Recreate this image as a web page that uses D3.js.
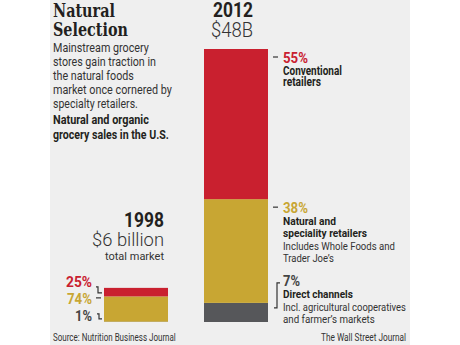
<!DOCTYPE html>
<html>
<head>
<meta charset="utf-8">
<script src="https://cdn.jsdelivr.net/npm/d3@7/dist/d3.min.js"></script>
<style>
  html, body { margin: 0; padding: 0; background: #fff; }
  svg { display: block; }
  .sans { font-family: "Roboto", "Open Sans", "DejaVu Sans", sans-serif; }
  .serif { font-family: "DejaVu Serif", "Liberation Serif", serif; }
</style>
</head>
<body>
<script>
// Natural and organic grocery sales in the U.S., by channel
const years = ["1998", "2012"];
const totals = [6, 48];               // $ billions
const totalLabels = ["$6 billion", "$48B"];
const channels = ["Direct channels", "Natural and speciality retailers", "Conventional retailers"];
const shareDirect = [1, 7];           // percent of total
const shareNatural = [74, 38];
const shareConventional = [25, 55];
const channelColors = ["#56575a", "#c8a633", "#c9202f"];

const W = 460, H = 345;
const svg = d3.select("body").append("svg").attr("width", W).attr("height", H);

// panel background
svg.append("rect").attr("x", 50).attr("y", 0).attr("width", 360).attr("height", H).attr("fill", "#efefef");

const baseY = 322;
const y = d3.scaleLinear().domain([0, 48]).range([baseY, 49]);
const x = d3.scaleBand().domain(years).range([104, 268]).paddingInner(0.36);

// stacked data: each year split into channels, value in $B
const rows = years.map((yr, i) => ({
  year: yr,
  "Direct channels": totals[i] * shareDirect[i] / 100,
  "Natural and speciality retailers": totals[i] * shareNatural[i] / 100,
  "Conventional retailers": totals[i] * shareConventional[i] / 100
}));
const stack = d3.stack().keys(channels)(rows);

svg.append("g").selectAll("g").data(stack).join("g")
  .attr("fill", (d, i) => channelColors[i])
  .selectAll("rect").data(d => d).join("rect")
  .attr("x", d => x(d.data.year))
  .attr("width", x.bandwidth())
  .attr("y", d => y(d[1]))
  .attr("height", d => y(d[0]) - y(d[1]));

const ink = "#231f20";
// text helper; when a width is given the glyphs are narrowed to a condensed set width
function txt(xp, yp, s, opts = {}) {
  const t = svg.append("text")
    .attr("class", opts.cls || "sans")
    .attr("font-size", opts.size || 11)
    .attr("font-weight", opts.weight || "normal")
    .attr("fill", opts.fill || ink)
    .attr("text-anchor", opts.anchor || "start")
    .text(s);
  let sx = 1;
  if (opts.w) {
    const len = t.node().getComputedTextLength();
    if (len > 0) sx = opts.w / len;
  }
  t.attr("transform", `translate(${xp},${yp}) scale(${sx},1)`);
  return t;
}

// headline and intro
txt(53, 17, "Natural", { cls: "serif", size: 19, weight: "bold", w: 62 });
txt(53, 36, "Selection", { cls: "serif", size: 19, weight: "bold", w: 75 });
const intro = ["Mainstream grocery", "stores gain traction in", "the natural foods", "market once cornered by", "specialty retailers."];
const introW = [96, 103, 81, 119, 85];
intro.forEach((s, i) => txt(53, 52 + i * 13.9, s, { size: 12, fill: "#333", w: introW[i] }));
txt(53, 124, "Natural and organic", { size: 12, weight: "bold", w: 96 });
txt(53, 139, "grocery sales in the U.S.", { size: 12, weight: "bold", w: 116 });

// 2012 header
const x12 = x("2012"), x98 = x("1998");
txt(x12 + 9, 17, years[1], { size: 20, weight: "bold", w: 40 });
txt(x12 + 7, 37, totalLabels[1], { size: 19.5, fill: "#333", weight: "300", w: 42 });

// 1998 header
const r98 = x98 + x.bandwidth() - 4;
txt(r98, 227, years[0], { size: 20, weight: "bold", anchor: "end", w: 40 });
txt(r98, 246, totalLabels[0], { size: 18.5, fill: "#333", weight: "300", anchor: "end", w: 72 });
txt(r98, 260, "total market", { size: 11.5, fill: "#333", anchor: "end", w: 59 });

// 2012 segment labels
const s12 = stack.map(s => s[1]);
const lx = x12 + x.bandwidth();
const tick = "#333";
function dash(x1, x2, yy) {
  svg.append("line").attr("x1", x1).attr("x2", x2).attr("y1", yy).attr("y2", yy)
    .attr("stroke", tick).attr("stroke-width", 1.2);
}
const pctSize = 14.5, headSize = 11.5, noteSize = 11;
// conventional
const yConv = y(s12[2][1]);
dash(lx + 5, lx + 10, yConv + 8);
txt(lx + 15, yConv + 14, shareConventional[1] + "%", { size: pctSize, weight: "bold", fill: channelColors[2], w: 25 });
txt(lx + 15, yConv + 26, "Conventional", { size: 12, weight: "bold", w: 59 });
txt(lx + 15, yConv + 37, "retailers", { size: 12, weight: "bold", w: 38 });
// natural
const yNat = y(s12[1][1]);
dash(lx + 5, lx + 10, yNat + 8);
txt(lx + 15, yNat + 14, shareNatural[1] + "%", { size: pctSize, weight: "bold", fill: channelColors[1], w: 25 });
txt(lx + 15, yNat + 26, "Natural and", { size: headSize, weight: "bold", w: 53 });
txt(lx + 15, yNat + 38, "speciality retailers", { size: headSize, weight: "bold", w: 84 });
txt(lx + 15, yNat + 51, "Includes Whole Foods and", { size: noteSize, fill: "#333", w: 112 });
txt(lx + 15, yNat + 63, "Trader Joe\u2019s", { size: noteSize, fill: "#333", w: 51 });
// direct
const yDir = y(s12[0][1]);
svg.append("path")
  .attr("d", `M${lx + 12},${yDir - 20}H${lx + 9}V${yDir + 5}H${lx + 6}`)
  .attr("fill", "none").attr("stroke", tick).attr("stroke-width", 1.2);
txt(lx + 15, yDir - 17, shareDirect[1] + "%", { size: pctSize, weight: "bold", fill: "#444", w: 17 });
txt(lx + 15, yDir - 5, "Direct channels", { size: headSize, weight: "bold", w: 70 });
txt(lx + 15, yDir + 8, "Incl. agricultural cooperatives", { size: noteSize, fill: "#333", w: 123 });
txt(lx + 15, yDir + 20, "and farmer\u2019s markets", { size: noteSize, fill: "#333", w: 92 });

// 1998 segment labels, placed left of the bar
const s98 = stack.map(s => s[0]);
const yC98 = y(s98[2][1]);
const bx = x98 - 2;      // right end of the leader marks
const tx = x98 - 12;     // right edge of the percentages
svg.append("path").attr("d", `M${bx - 6},${yC98 - 1}H${bx - 4}V${yC98 + 5}H${bx}`)
  .attr("fill", "none").attr("stroke", tick).attr("stroke-width", 1.2);
txt(tx, yC98 - 1, shareConventional[0] + "%", { size: pctSize, weight: "bold", fill: channelColors[2], anchor: "end", w: 26 });
dash(bx - 6, bx - 1, yC98 + 10);
txt(tx, yC98 + 16, shareNatural[0] + "%", { size: pctSize, weight: "bold", fill: channelColors[1], anchor: "end", w: 25 });
svg.append("path").attr("d", `M${bx - 5},${yC98 + 26}H${bx - 3}V${yC98 + 31}H${bx}`)
  .attr("fill", "none").attr("stroke", tick).attr("stroke-width", 1.2);
txt(tx, yC98 + 33, shareDirect[0] + "%", { size: pctSize, weight: "bold", fill: "#444", anchor: "end", w: 17 });

// footer
txt(53, 341, "Source: Nutrition Business Journal", { size: 10, fill: "#333", w: 123 });
txt(406, 341, "The Wall Street Journal", { size: 10, fill: "#333", anchor: "end", w: 85 });
</script>
</body>
</html>
